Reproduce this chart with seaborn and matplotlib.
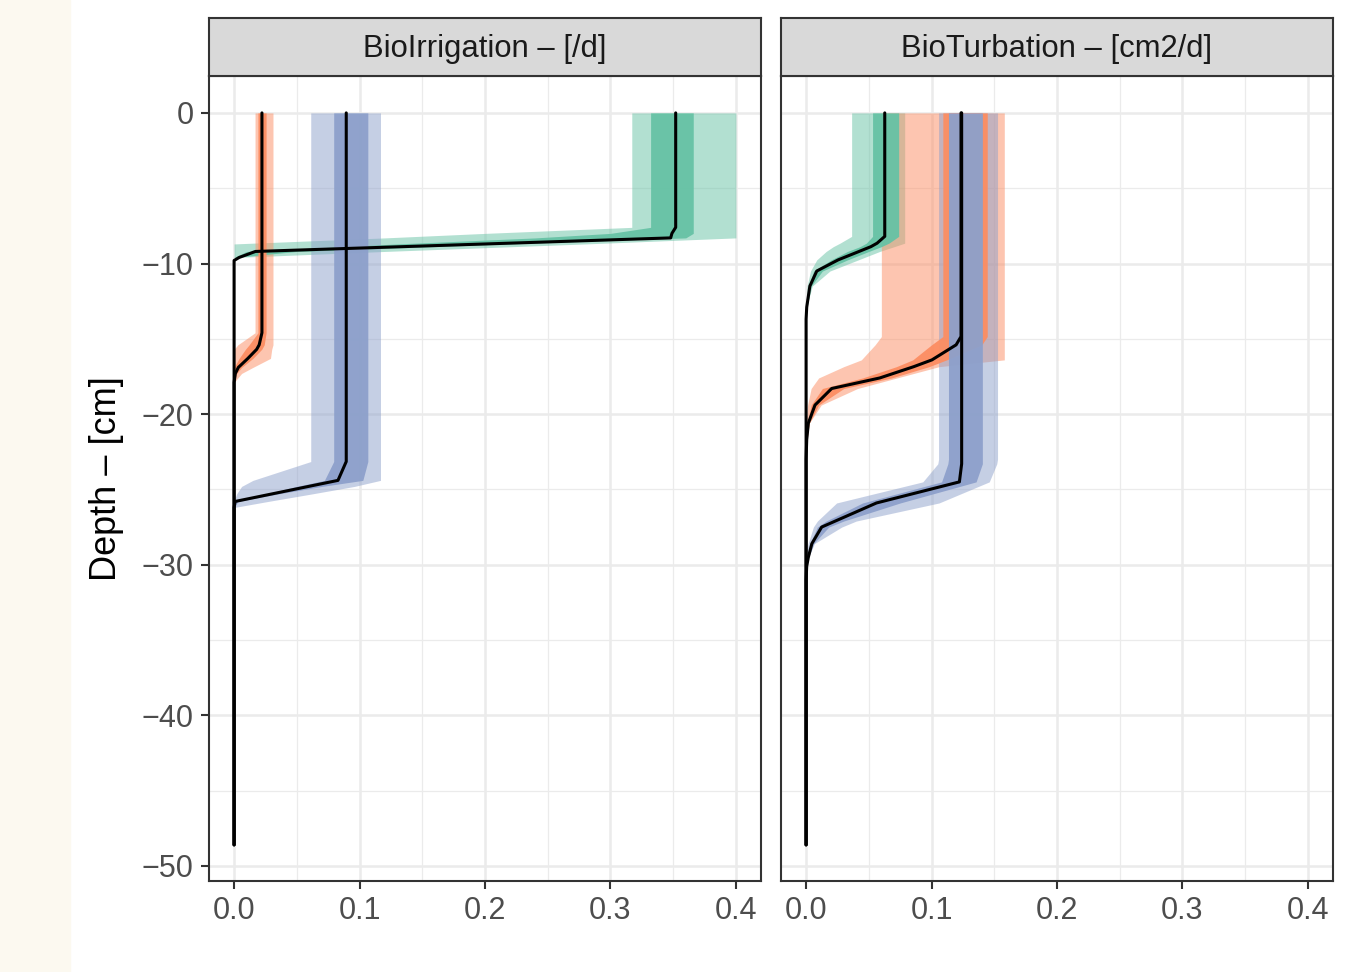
import numpy as np
import matplotlib
matplotlib.use("Agg")
import matplotlib.pyplot as plt
from matplotlib.patches import Rectangle
import seaborn as sns

# --- DATA: depth profiles (median + 5-95% and 25-75% ranges) ---
# BioIrrigation [/d]
irr_a_depth = [0, -7.6, -8.0, -8.3, -8.7, -9.2, -9.6, -9.8, -48.6]
irr_a_q05 = [0.317, 0.317, 0.20, 0.12, 0.0, 0.0, 0.0, 0.0, 0.0]
irr_a_q25 = [0.332, 0.332, 0.30, 0.24, 0.13, 0.01, 0.0, 0.0, 0.0]
irr_a_q50 = [0.352, 0.352, 0.349, 0.348, 0.201, 0.017, 0.004, 0.0, 0.0]
irr_a_q75 = [0.366, 0.366, 0.366, 0.36, 0.22, 0.05, 0.0, 0.0, 0.0]
irr_a_q95 = [0.40, 0.40, 0.40, 0.40, 0.28, 0.12, 0.0, 0.0, 0.0]

irr_b_depth = [0, -14.6, -15.4, -15.7, -16.3, -16.9, -17.3, -17.9, -48.6]
irr_b_q05 = [0.0167, 0.0167, 0.003, 0.0, 0.0, 0.0, 0.0, 0.0, 0.0]
irr_b_q25 = [0.019, 0.019, 0.012, 0.009, 0.004, 0.0, 0.0, 0.0, 0.0]
irr_b_q50 = [0.0222, 0.0222, 0.020, 0.018, 0.011, 0.0034, 0.001, 0.0, 0.0]
irr_b_q75 = [0.0255, 0.0255, 0.024, 0.022, 0.015, 0.006, 0.002, 0.0, 0.0]
irr_b_q95 = [0.031, 0.031, 0.031, 0.030, 0.029, 0.015, 0.006, 0.0, 0.0]

irr_c_depth = [0, -23.15, -24.4, -24.8, -25.3, -25.8, -26.2, -48.6]
irr_c_q05 = [0.0611, 0.0611, 0.015, 0.006, 0.002, 0.0, 0.0, 0.0]
irr_c_q25 = [0.0794, 0.0794, 0.072, 0.05, 0.025, 0.0, 0.0, 0.0]
irr_c_q50 = [0.0894, 0.0894, 0.0828, 0.0594, 0.0301, 0.0008, 0.0, 0.0]
irr_c_q75 = [0.1066, 0.1066, 0.1026, 0.07, 0.035, 0.003, 0.0, 0.0]
irr_c_q95 = [0.1167, 0.1167, 0.1167, 0.096, 0.062, 0.027, 0.0, 0.0]

# BioTurbation [cm2/d]
tur_a_depth = [0, -8.2, -8.65, -8.88, -9.2, -9.76, -10.5, -11.5, -12.9, -13.7, -48.6]
tur_a_q05 = [0.0363, 0.0363, 0.027, 0.0217, 0.016, 0.0085, 0.0035, 0.0008, 0.0, 0.0, 0.0]
tur_a_q25 = [0.053, 0.053, 0.048, 0.043, 0.033, 0.02, 0.006, 0.002, 0.0003, 0.0, 0.0]
tur_a_q50 = [0.0627, 0.0627, 0.0566, 0.0517, 0.0422, 0.0255, 0.0085, 0.003, 0.0005, 0.0, 0.0]
tur_a_q75 = [0.0738, 0.0738, 0.066, 0.06, 0.05, 0.033, 0.013, 0.004, 0.0008, 0.0, 0.0]
tur_a_q95 = [0.0786, 0.0786, 0.0786, 0.0703, 0.0587, 0.0416, 0.019, 0.0049, 0.0003, 0.0, 0.0]

tur_b_depth = [0, -14.85, -15.4, -16.4, -16.85, -17.6, -18.3, -19.4, -20.6, -21.7, -23.0, -48.6]
tur_b_q05 = [0.060, 0.060, 0.055, 0.044, 0.030, 0.010, 0.004, 0.0012, 0.0, 0.0, 0.0, 0.0]
tur_b_q25 = [0.109, 0.109, 0.10, 0.085, 0.072, 0.045, 0.013, 0.004, 0.001, 0.0002, 0.0, 0.0]
tur_b_q50 = [0.1235, 0.1235, 0.1196, 0.1003, 0.0858, 0.0587, 0.0204, 0.0071, 0.0018, 0.0005, 0.0, 0.0]
tur_b_q75 = [0.1444, 0.1444, 0.14, 0.112, 0.098, 0.068, 0.03, 0.01, 0.0025, 0.0008, 0.0, 0.0]
tur_b_q95 = [0.158, 0.158, 0.158, 0.158, 0.106, 0.0724, 0.041, 0.012, 0.0025, 0.0006, 0.0, 0.0]

tur_c_depth = [0, -23.0, -23.3, -24.5, -25.9, -27.1, -27.5, -28.6, -29.5, -30.1, -31.0, -48.6]
tur_c_q05 = [0.1056, 0.1056, 0.105, 0.093, 0.0243, 0.009, 0.0058, 0.0016, 0.0, 0.0, 0.0, 0.0]
tur_c_q25 = [0.1135, 0.1135, 0.113, 0.108, 0.045, 0.016, 0.009, 0.003, 0.0008, 0.0002, 0.0, 0.0]
tur_c_q50 = [0.124, 0.124, 0.124, 0.1222, 0.0561, 0.0233, 0.0124, 0.0046, 0.0018, 0.0005, 0.0, 0.0]
tur_c_q75 = [0.1405, 0.1405, 0.1405, 0.1355, 0.075, 0.03, 0.018, 0.006, 0.002, 0.0006, 0.0, 0.0]
tur_c_q95 = [0.1526, 0.1526, 0.152, 0.146, 0.106, 0.040, 0.0284, 0.0066, 0.002, 0.0008, 0.0, 0.0]

panel_titles = ["BioIrrigation \u2013 [/d]", "BioTurbation \u2013 [cm2/d]"]
y_label = "Depth \u2013 [cm]"
x_ticks = [0.0, 0.1, 0.2, 0.3, 0.4]
y_ticks = [0, -10, -20, -30, -40, -50]

colors = ["#66c2a5", "#fc8d62", "#8da0cb"]

panels = [
    [(irr_a_depth, irr_a_q05, irr_a_q25, irr_a_q50, irr_a_q75, irr_a_q95),
     (irr_b_depth, irr_b_q05, irr_b_q25, irr_b_q50, irr_b_q75, irr_b_q95),
     (irr_c_depth, irr_c_q05, irr_c_q25, irr_c_q50, irr_c_q75, irr_c_q95)],
    [(tur_a_depth, tur_a_q05, tur_a_q25, tur_a_q50, tur_a_q75, tur_a_q95),
     (tur_b_depth, tur_b_q05, tur_b_q25, tur_b_q50, tur_b_q75, tur_b_q95),
     (tur_c_depth, tur_c_q05, tur_c_q25, tur_c_q50, tur_c_q75, tur_c_q95)],
]

# --- STYLE ---
sns.set_style("white")
plt.rcParams['font.family'] = ['Liberation Sans', 'DejaVu Sans']

W, H = 1348, 972
fig = plt.figure(figsize=(W / 100, H / 100), dpi=100)
fig.patches.append(Rectangle((0, 0), 70 / W, 1, transform=fig.transFigure,
                             color="#fcf9f0", zorder=0))

ax_left = [209, 781]
ax_w = 552
ax_top, ax_bot = 76, 881
strip_top = 18

for i, profiles in enumerate(panels):
    ax = fig.add_axes([ax_left[i] / W, 1 - ax_bot / H, ax_w / W, (ax_bot - ax_top) / H])
    ax.set_facecolor("white")

    # outer ranges first, then inner ranges, then the median lines
    for (d, q05, q25, q50, q75, q95), c in zip(profiles, colors):
        ax.fill_betweenx(d, q05, q95, color=c, alpha=0.5, lw=0, zorder=2)
    for (d, q05, q25, q50, q75, q95), c in zip(profiles, colors):
        ax.fill_betweenx(d, q25, q75, color=c, alpha=0.95, lw=0, zorder=3)
    for (d, q05, q25, q50, q75, q95) in profiles:
        sns.lineplot(x=q50, y=d, sort=False, estimator=None, color="black",
                     linewidth=2.2, ax=ax, zorder=4)

    ax.set_xlim(-0.02, 0.42)
    ax.set_ylim(-51.0, 2.45)
    ax.set_xticks(x_ticks)
    ax.set_xticks([0.05, 0.15, 0.25, 0.35], minor=True)
    ax.set_yticks(y_ticks)
    ax.set_yticks([-5, -15, -25, -35, -45], minor=True)
    ax.xaxis.set_major_formatter(matplotlib.ticker.FormatStrFormatter('%.1f'))
    ax.grid(True, which="major", color="#ebebeb", lw=1.8, zorder=0)
    ax.grid(True, which="minor", color="#ebebeb", lw=0.9, zorder=0)
    ax.set_axisbelow(True)
    for s in ax.spines.values():
        s.set_color("#333333")
        s.set_linewidth(1.5)
    ax.tick_params(which="major", direction="out", length=6, width=1.5,
                   color="#333333", labelsize=22, labelcolor="#4d4d4d", pad=5)
    ax.tick_params(which="minor", length=0)
    ax.tick_params(axis="x", bottom=True, left=False)
    if i == 0:
        ax.tick_params(axis="y", left=True)
    else:
        ax.tick_params(axis="y", left=False, labelleft=False)
    ax.set_xlabel("")
    ax.set_ylabel("")

    # facet strip
    sax = fig.add_axes([ax_left[i] / W, 1 - ax_top / H, ax_w / W, (ax_top - strip_top) / H])
    sax.set_facecolor("#d9d9d9")
    sax.set_xticks([])
    sax.set_yticks([])
    for s in sax.spines.values():
        s.set_color("#333333")
        s.set_linewidth(1.5)
    sax.text(0.5, 0.46, panel_titles[i], ha="center", va="center",
             fontsize=22.3, color="#1a1a1a", transform=sax.transAxes)

fig.text(106 / W, 1 - 479 / H, y_label, rotation=90, ha="center", va="center",
         fontsize=26, color="black")

fig.savefig("out.png", dpi=100)
